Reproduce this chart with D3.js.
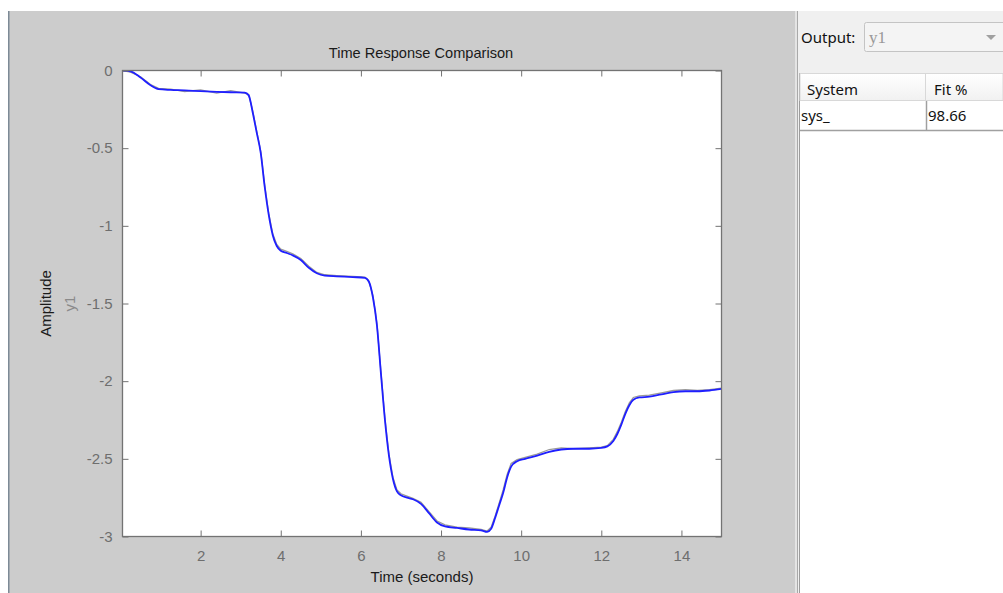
<!DOCTYPE html>
<html>
<head>
<meta charset="utf-8">
<script src="https://cdn.jsdelivr.net/npm/d3@7"></script>
<style>
  body { margin: 0; background: #fff; }
  svg { display: block; }
</style>
</head>
<body>
<script>
const width = 1003;
const height = 593;

// time samples (seconds)
const time = [0.05, 0.25, 0.5, 0.75, 0.95, 1.25, 1.6, 2.0, 2.4, 2.75, 3.1, 3.2, 3.3, 3.4, 3.5, 3.6, 3.7, 3.8, 3.9, 4.0,
  4.15, 4.3, 4.5, 4.7, 4.9, 5.1, 5.4, 5.8, 6.1, 6.2, 6.3, 6.4, 6.5, 6.6, 6.7, 6.8, 6.9, 7.0, 7.15, 7.3,
  7.5, 7.7, 7.9, 8.1, 8.4, 8.7, 9.0, 9.15, 9.25, 9.35, 9.45, 9.55, 9.65, 9.75, 9.9, 10.1, 10.4, 10.7, 11.0, 11.3,
  11.7, 12.0, 12.15, 12.3, 12.4, 12.5, 12.6, 12.7, 12.8, 12.95, 13.2, 13.5, 13.8, 14.1, 14.4, 14.7, 15.0];

// sys_ simulated output (blue)
const model = [0, -0.005, -0.045, -0.095, -0.12, -0.125, -0.128, -0.133, -0.137, -0.14, -0.142, -0.16, -0.27, -0.4, -0.53, -0.75, -0.93, -1.06, -1.13, -1.16,
  -1.175, -1.19, -1.22, -1.27, -1.305, -1.32, -1.325, -1.33, -1.335, -1.36, -1.46, -1.64, -1.95, -2.25, -2.48, -2.63, -2.71, -2.735, -2.75, -2.76,
  -2.79, -2.85, -2.91, -2.935, -2.945, -2.955, -2.96, -2.97, -2.95, -2.88, -2.8, -2.72, -2.62, -2.55, -2.515, -2.5, -2.48, -2.455, -2.44, -2.435,
  -2.435, -2.43, -2.42, -2.385, -2.34, -2.28, -2.21, -2.155, -2.12, -2.105, -2.1, -2.085, -2.07, -2.065, -2.065, -2.06, -2.05];

// measured y1 (gray)
const measured = [0, -0.01, -0.04, -0.09, -0.115, -0.12, -0.135, -0.125, -0.145, -0.13, -0.145, -0.155, -0.26, -0.39, -0.52, -0.74, -0.92, -1.05, -1.12, -1.15,
  -1.165, -1.18, -1.21, -1.26, -1.3, -1.315, -1.32, -1.325, -1.33, -1.355, -1.45, -1.63, -1.94, -2.24, -2.47, -2.62, -2.7, -2.725, -2.74, -2.755,
  -2.78, -2.84, -2.9, -2.925, -2.94, -2.945, -2.955, -2.965, -2.94, -2.87, -2.785, -2.7, -2.6, -2.53, -2.505, -2.49, -2.47, -2.44, -2.43, -2.435,
  -2.43, -2.425, -2.415, -2.375, -2.325, -2.265, -2.195, -2.14, -2.105, -2.095, -2.09, -2.075, -2.06, -2.055, -2.06, -2.055, -2.045];

const xTicks = [2, 4, 6, 8, 10, 12, 14];
const yTicks = [0, -0.5, -1, -1.5, -2, -2.5, -3];

const systems = ["sys_"];
const fits = ["98.66"];

const plot = { left: 122.5, right: 721.5, top: 70.5, bottom: 536.5 };
const tickLen = 6;

const svg = d3.select("body").append("svg")
  .attr("width", width)
  .attr("height", height)
  .attr("font-family", "'Liberation Sans', Arial, sans-serif");

// window background
svg.append("rect").attr("x", 9).attr("y", 11).attr("width", 786).attr("height", height - 11).attr("fill", "#cccccc");
svg.append("rect").attr("x", 8).attr("y", 11).attr("width", 1.5).attr("height", height - 11).attr("fill", "#7d8a96");

// right panel
svg.append("rect").attr("x", 795).attr("y", 11).attr("width", 208).attr("height", height - 11).attr("fill", "#f0f0f0");
svg.append("rect").attr("x", 795).attr("y", 11).attr("width", 2).attr("height", height - 11).attr("fill", "#e4e4e4");
svg.append("rect").attr("x", 797).attr("y", 11).attr("width", 1).attr("height", height - 11).attr("fill", "#a9a9a9");
svg.append("rect").attr("x", 799).attr("y", 73).attr("width", 1).attr("height", height - 73).attr("fill", "#9c9c9c");

const x = d3.scaleLinear().domain([0.05, 15]).range([plot.left, plot.right]);
const y = d3.scaleLinear().domain([-3, 0]).range([plot.bottom, plot.top]);

// axes box
svg.append("rect")
  .attr("x", plot.left).attr("y", plot.top)
  .attr("width", plot.right - plot.left).attr("height", plot.bottom - plot.top)
  .attr("fill", "#fff");

svg.append("clipPath").attr("id", "clip")
  .append("rect")
  .attr("x", plot.left).attr("y", plot.top)
  .attr("width", plot.right - plot.left).attr("height", plot.bottom - plot.top);

const smooth = d3.line()
  .x((d, i) => x(time[i]))
  .y(d => y(d))
  .curve(d3.curveMonotoneX);
const jagged = d3.line()
  .x((d, i) => x(time[i]))
  .y(d => y(d));

const lines = svg.append("g").attr("clip-path", "url(#clip)");
lines.append("path")
  .datum(measured)
  .attr("fill", "none")
  .attr("stroke", "#999999")
  .attr("stroke-width", 1.3)
  .attr("d", jagged);
lines.append("path")
  .datum(model)
  .attr("fill", "none")
  .attr("stroke", "#1f1fff")
  .attr("stroke-width", 1.8)
  .attr("d", smooth);

// axes with inward ticks on all four sides
const axisColor = "#737373";
const labelColor = "#6e6e6e";

function styleAxis(g) {
  g.select(".domain").remove();
  g.selectAll(".tick line").attr("stroke", axisColor);
  g.selectAll(".tick text").attr("fill", labelColor).attr("font-size", 15);
}

svg.append("g")
  .attr("transform", `translate(0,${plot.bottom})`)
  .call(d3.axisBottom(x).tickValues(xTicks).tickSize(-tickLen).tickPadding(14).tickFormat(d => String(d)))
  .call(styleAxis);
svg.append("g")
  .attr("transform", `translate(0,${plot.top})`)
  .call(d3.axisTop(x).tickValues(xTicks).tickSize(-tickLen).tickFormat(""))
  .call(styleAxis);
svg.append("g")
  .attr("transform", `translate(${plot.left},0)`)
  .call(d3.axisLeft(y).tickValues(yTicks).tickSize(-tickLen).tickPadding(10).tickFormat(d => String(d)))
  .call(styleAxis);
svg.append("g")
  .attr("transform", `translate(${plot.right},0)`)
  .call(d3.axisRight(y).tickValues(yTicks).tickSize(-tickLen).tickFormat(""))
  .call(styleAxis);

svg.append("rect")
  .attr("x", plot.left).attr("y", plot.top)
  .attr("width", plot.right - plot.left).attr("height", plot.bottom - plot.top)
  .attr("fill", "none")
  .attr("stroke", axisColor)
  .attr("stroke-width", 1.3);

// titles
svg.append("text")
  .attr("x", (plot.left + plot.right) / 2 - 1).attr("y", 58)
  .attr("text-anchor", "middle")
  .attr("font-size", 14.6)
  .attr("fill", "#1a1a1a")
  .text("Time Response Comparison");

svg.append("text")
  .attr("x", (plot.left + plot.right) / 2).attr("y", 582)
  .attr("text-anchor", "middle")
  .attr("font-size", 15)
  .attr("fill", "#1a1a1a")
  .text("Time (seconds)");

svg.append("text")
  .attr("transform", `translate(51,${(plot.top + plot.bottom) / 2}) rotate(-90)`)
  .attr("text-anchor", "middle")
  .attr("font-size", 15)
  .attr("fill", "#1a1a1a")
  .text("Amplitude");

svg.append("text")
  .attr("transform", `translate(75,${(plot.top + plot.bottom) / 2}) rotate(-90)`)
  .attr("text-anchor", "middle")
  .attr("font-size", 15)
  .attr("fill", "#8a8a8a")
  .text("y1");

// output selector
const ui = svg.append("g").attr("font-family", "'Noto Sans', 'Open Sans', sans-serif");
ui.append("text").attr("x", 801).attr("y", 43).attr("font-size", 15).attr("fill", "#111").text("Output:");
ui.append("rect").attr("x", 864.5).attr("y", 22.5).attr("width", 150).attr("height", 29)
  .attr("rx", 2).attr("fill", "#f4f4f4").attr("stroke", "#c4c4c4");
ui.append("text").attr("x", 869).attr("y", 43).attr("font-size", 17)
  .attr("font-family", "'Liberation Serif', serif").attr("fill", "#999").text("y1");
ui.append("path").attr("d", "M986,35 L996,35 L991,40 Z").attr("fill", "#a0a0a0");

// fit table
ui.append("rect").attr("x", 800).attr("y", 130).attr("width", 203).attr("height", height - 130).attr("fill", "#fff");

const grad = svg.append("defs").append("linearGradient").attr("id", "hdr").attr("x1", 0).attr("x2", 0).attr("y1", 0).attr("y2", 1);
grad.append("stop").attr("offset", 0).attr("stop-color", "#ffffff");
grad.append("stop").attr("offset", 1).attr("stop-color", "#f1f1f1");

ui.append("rect").attr("x", 800).attr("y", 73.5).attr("width", 203).attr("height", 27).attr("fill", "url(#hdr)").attr("stroke", "#d8d8d8");
ui.append("line").attr("x1", 925.5).attr("x2", 925.5).attr("y1", 74).attr("y2", 100).attr("stroke", "#d8d8d8");
ui.append("text").attr("x", 807).attr("y", 95).attr("font-size", 15).attr("fill", "#111").text("System");
ui.append("text").attr("x", 934).attr("y", 95).attr("font-size", 15).attr("fill", "#111").text("Fit %");

const rowH = 29;
systems.forEach((s, i) => {
  const top = 101 + i * rowH;
  ui.append("rect").attr("x", 800).attr("y", top).attr("width", 203).attr("height", rowH).attr("fill", "#fff");
  ui.append("line").attr("x1", 800).attr("x2", 1003).attr("y1", top + rowH + 0.5).attr("y2", top + rowH + 0.5).attr("stroke", "#a0a0a0").attr("stroke-width", 1.5);
  ui.append("line").attr("x1", 926.5).attr("x2", 926.5).attr("y1", top).attr("y2", top + rowH).attr("stroke", "#a0a0a0").attr("stroke-width", 1.5);
  ui.append("text").attr("x", 801).attr("y", top + 20).attr("font-size", 15).attr("fill", "#111").text(s);
  ui.append("text").attr("x", 928).attr("y", top + 20).attr("font-size", 15).attr("fill", "#111").text(fits[i]);
});
</script>
</body>
</html>
